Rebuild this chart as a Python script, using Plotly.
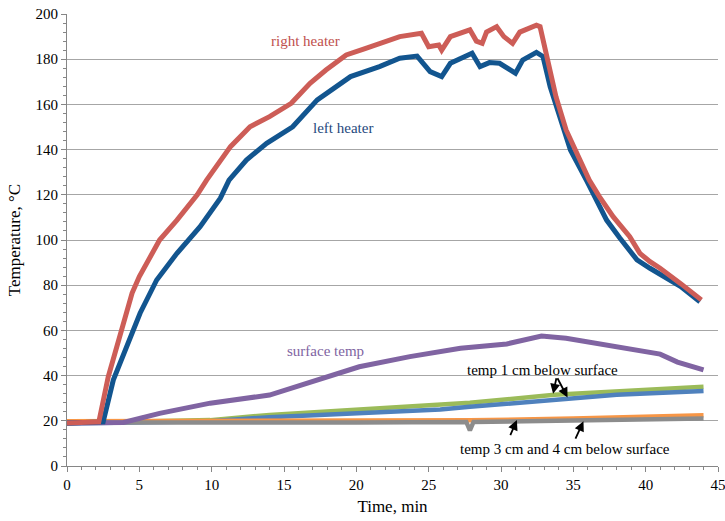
import plotly.graph_objects as go

# ---- data ----
right_t = [0, 1.0, 2.2, 2.85, 3.8, 4.5, 5.0, 6.4, 7.6, 9.0, 9.65, 11.3, 12.65, 14.0, 15.5, 16.8, 17.9,
           19.3, 20.5, 21.6, 23.0, 24.5, 25.0, 25.7, 25.9, 26.5, 27.85, 28.3, 28.7, 29.0, 29.7, 30.2,
           30.8, 31.3, 32.45, 32.7, 33.15, 33.8, 34.5, 35.45, 36.1, 36.8, 37.75, 38.9, 39.6, 40.3,
           41.0, 42.4, 43.85]
right_T = [19, 19, 19.5, 39.5, 60, 76.5, 83.8, 100, 108.8, 120, 126.5, 141.3, 150.1, 154.6, 160.5, 169.3, 175.2,
           181.9, 184.5, 187, 190, 191.5, 185.5, 186.3, 184, 190, 193, 188, 187, 192, 194.4, 190,
           187, 192, 195, 194.4, 182.6, 163.4, 148.7, 135.4, 126.5, 119.2, 110.3, 101.5, 94.1, 90.4,
           87.5, 80.8, 73.5]

left_t = [0, 1.0, 2.5, 3.2, 4.1, 5.05, 6.2, 7.6, 9.2, 10.6, 11.2, 12.4, 13.8, 15.6, 17.3, 18.6, 19.6,
          21.6, 23.0, 24.2, 25.1, 25.9, 26.5, 28.0, 28.55, 29.2, 29.9, 31.0, 31.5, 32.45, 32.9, 33.4,
          34.1, 34.8, 35.9, 37.3, 38.2, 39.4, 40.3, 41.0, 42.4, 43.75]
left_T = [19, 19, 19.5, 38, 52.8, 67.6, 82.3, 94.1, 105.9, 118.5, 126.5, 135.4, 142.8, 150.1, 162, 167.8, 172.3,
          176.7, 180.4, 181.4, 174.5, 172.3, 178.2, 182.6, 176.7, 178.5, 178.2, 173.8, 179.6, 183, 181.2, 167.8,
          153, 139.8, 126.5, 108.8, 101, 91.2, 87.5, 85, 79.5, 72.7]

surface_t = [0, 3.9, 6.4, 9.9, 14.0, 17.3, 20.2, 23.7, 27.2, 30.4, 32.8, 34.5, 37.3, 39.6, 41.0, 42.2, 44.0]
surface_T = [19, 19.3, 23.3, 27.8, 31.4, 38, 43.9, 48.4, 52.1, 54, 57.5, 56.5, 53.5, 50.5, 49.5, 46, 42.5]

green_t = [0, 9.9, 14, 20, 25.8, 27.85, 33.7, 38, 44]
green_T = [19, 20.3, 22.6, 25, 27.2, 28, 31.5, 33.2, 35.1]

lblue_t = [0, 9.9, 14, 20, 25.8, 27.85, 34.65, 38, 44]
lblue_T = [18.8, 19.8, 21.6, 23.5, 25, 26.2, 29.8, 31.5, 33.2]

orange_t = [0, 10, 20, 27.85, 35, 44]
orange_T = [19.8, 19.8, 20, 20.2, 21, 22.5]

gray_t = [0, 10, 20, 27.6, 27.85, 28.1, 35, 44]
gray_T = [19.2, 19, 19.2, 19.5, 15.8, 19.5, 20, 21]

x_ticks = [0, 5, 10, 15, 20, 25, 30, 35, 40, 45]
y_ticks = [0, 20, 40, 60, 80, 100, 120, 140, 160, 180, 200]

FONT = "Liberation Serif"

fig = go.Figure()
series = [
    (green_t, green_T, "#9BBB59", 4.5),
    (lblue_t, lblue_T, "#4F81BD", 4.5),
    (orange_t, orange_T, "#F79646", 4.5),
    (gray_t, gray_T, "#8C8C8C", 4.5),
    (surface_t, surface_T, "#8064A2", 5),
    (left_t, left_T, "#12558F", 5),
    (right_t, right_T, "#CD5D57", 5),
]
for t, T, c, w in series:
    fig.add_trace(go.Scatter(x=t, y=T, mode="lines", line=dict(color=c, width=w), showlegend=False))

texts = [
    (16.5, 188.2, "right heater", "#C0504D"),
    (19.1, 149.4, "left heater", "#1F497D"),
    (17.9, 50.9, "surface temp", "#8064A2"),
    (32.9, 42.5, "temp 1 cm below surface", "black"),
    (34.4, 7.4, "temp 3 cm and 4 cm below surface", "black"),
]
for x, y, s, c in texts:
    fig.add_annotation(x=x, y=y, text=s, showarrow=False, font=dict(family=FONT, size=15, color=c))

arrows = [
    (33.85, 39.5, 33.6, 32.0),
    (33.85, 39.5, 34.6, 30.3),
    (30.6, 13.0, 31.1, 20.3),
    (35.1, 11.5, 35.7, 19.8),
]
for ax, ay, x, y in arrows:
    fig.add_annotation(x=x, y=y, ax=ax, ay=ay, axref="x", ayref="y", xref="x", yref="y",
                       text="", showarrow=True, arrowhead=2, arrowsize=1.1, arrowwidth=1.8,
                       arrowcolor="black")

axis_common = dict(showline=True, linecolor="#868686", linewidth=1, ticks="outside",
                   tickcolor="#868686", ticklen=5, zeroline=False, automargin=False,
                   ticklabeloverflow="allow",
                   tickfont=dict(family=FONT, size=15, color="black"))

fig.update_xaxes(range=[0, 45], tickvals=x_ticks, showgrid=False,
                 minor=dict(dtick=1, ticks="outside", ticklen=3, tickcolor="#868686"),
                 title=dict(text="Time, min", font=dict(family=FONT, size=17, color="black"), standoff=8),
                 **axis_common)
fig.update_yaxes(range=[0, 200], tickvals=y_ticks, showgrid=True, gridcolor="#A6A6A6", gridwidth=1,
                 minor=dict(dtick=4, ticks="outside", ticklen=3, tickcolor="#868686", showgrid=False),
                 title=dict(text="Temperature, °C", font=dict(family=FONT, size=17, color="black"), standoff=10),
                 **axis_common)

fig.update_layout(width=725, height=521, margin=dict(l=67, r=7, t=14, b=55),
                  plot_bgcolor="white", paper_bgcolor="white")

fig.write_html("out.html", config={"displayModeBar": False},
               post_script="document.body.style.margin='0';")
